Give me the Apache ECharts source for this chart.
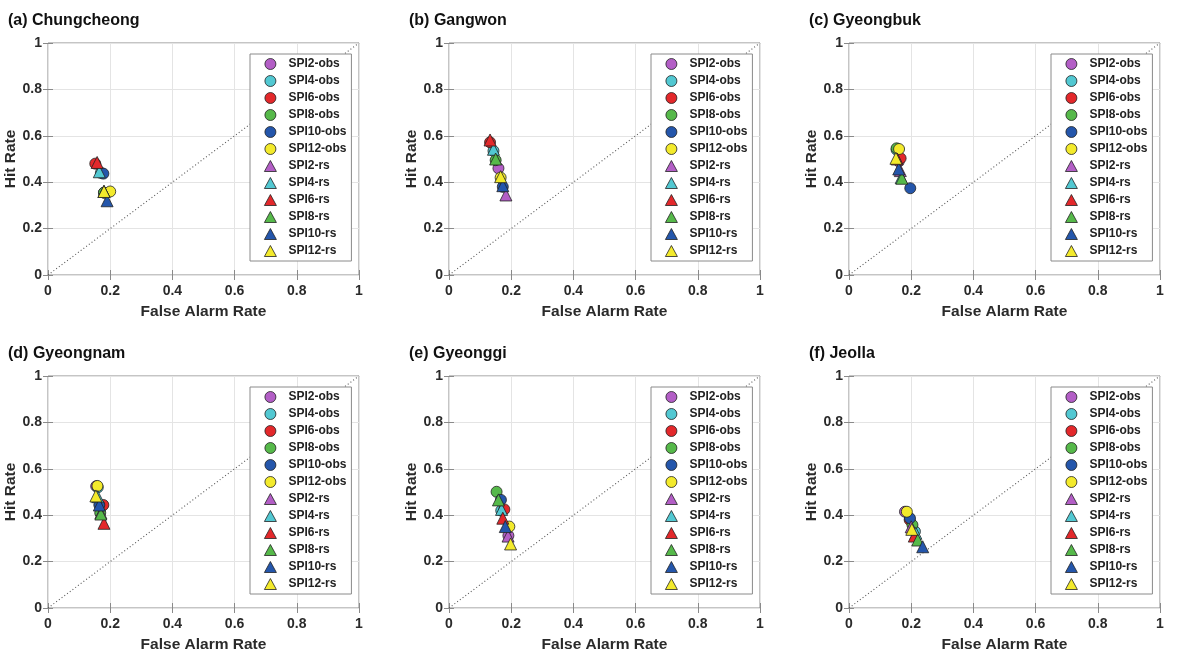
<!DOCTYPE html>
<html>
<head>
<meta charset="utf-8">
<script src="https://cdn.jsdelivr.net/npm/echarts@6/dist/echarts.min.js"></script>
<style>html,body{margin:0;padding:0;background:#fff}#c{width:1181px;height:658px}</style>
</head>
<body>
<div id="c"></div>
<script>
const panelTitles = ['(a) Chungcheong','(b) Gangwon','(c) Gyeongbuk','(d) Gyeongnam','(e) Gyeonggi','(f) Jeolla'];
const spiNames = ['SPI2','SPI4','SPI6','SPI8','SPI10','SPI12'];
const spiColors = ['#b35ec6','#52c8d2','#e3282b','#56b94a','#2456ab','#f3ea2c'];
const axisTicks = [0, 0.2, 0.4, 0.6, 0.8, 1];

// [x (False Alarm Rate), y (Hit Rate)] for SPI2..SPI12
const obsA = [[0.18,0.355],[0.17,0.44],[0.152,0.48],[0.18,0.355],[0.178,0.437],[0.2,0.36]];
const rsA  = [[0.18,0.36],[0.165,0.445],[0.158,0.485],[0.18,0.36],[0.19,0.32],[0.18,0.36]];
const obsB = [[0.159,0.46],[0.143,0.535],[0.132,0.572],[0.15,0.495],[0.173,0.38],[0.166,0.42]];
const rsB  = [[0.183,0.345],[0.143,0.542],[0.132,0.582],[0.15,0.50],[0.173,0.385],[0.166,0.424]];
const obsC = [[0.16,0.49],[0.153,0.54],[0.166,0.503],[0.153,0.546],[0.197,0.374],[0.161,0.543]];
const rsC  = [[0.165,0.45],[0.168,0.42],[0.155,0.5],[0.17,0.417],[0.16,0.457],[0.151,0.503]];
const obsD = [[0.155,0.525],[0.16,0.52],[0.178,0.444],[0.168,0.41],[0.165,0.444],[0.159,0.526]];
const rsD  = [[0.17,0.41],[0.16,0.48],[0.18,0.365],[0.17,0.405],[0.165,0.444],[0.154,0.483]];
const obsE = [[0.191,0.312],[0.168,0.42],[0.178,0.425],[0.153,0.501],[0.167,0.466],[0.194,0.351]];
const rsE  = [[0.19,0.31],[0.169,0.425],[0.173,0.387],[0.159,0.466],[0.181,0.351],[0.198,0.276]];
const obsF = [[0.18,0.415],[0.212,0.33],[0.195,0.38],[0.204,0.358],[0.196,0.387],[0.186,0.415]];
const rsF  = [[0.2,0.35],[0.215,0.322],[0.21,0.31],[0.221,0.293],[0.237,0.264],[0.202,0.339]];
const diagonal = [[0,0],[1,1]];

const obsAll = [obsA, obsB, obsC, obsD, obsE, obsF];
const rsAll = [rsA, rsB, rsC, rsD, rsE, rsF];

const gridLefts = [48, 449, 849];
const gridTops = [43, 376];
const GW = 311, GH = 232;

const chart = echarts.init(document.getElementById('c'), null, {renderer:'canvas'});
const grids = [], xAxes = [], yAxes = [], series = [], legends = [], titles = [];
const font = 'Liberation Sans, Arial, Helvetica, sans-serif';

for (let p = 0; p < 6; p++) {
  const col = p % 3, row = Math.floor(p / 3);
  const L = gridLefts[col], T = gridTops[row];
  grids.push({left: L, top: T, width: GW, height: GH, show: true, borderColor: '#8a8a8a', borderWidth: 1, backgroundColor: '#fff'});
  titles.push({text: panelTitles[p], left: L - 45, top: T - 35,
    textStyle: {fontFamily: font, fontWeight: 'bold', fontSize: 16, color: '#111'}});
  const axisCommon = {
    min: 0, max: 1, interval: 0.2, gridIndex: p,
    axisLine: {show: false},
    axisTick: {show: true, inside: true, length: 5, lineStyle: {color: '#8a8a8a'}},
    splitLine: {show: true, lineStyle: {color: '#e4e4e4', width: 1}},
    axisLabel: {fontFamily: font, fontWeight: 'bold', fontSize: 14, color: '#2a2a2a',
      formatter: v => { const i = axisTicks.findIndex(t => Math.abs(t - v) < 1e-9); return i >= 0 ? String(axisTicks[i]) : ''; }},
    nameLocation: 'middle',
    nameTextStyle: {fontFamily: font, fontWeight: 'bold', fontSize: 15.5, color: '#2a2a2a'}
  };
  xAxes.push(Object.assign({}, axisCommon, {type: 'value', name: 'False Alarm Rate', nameGap: 29,
    axisLabel: Object.assign({}, axisCommon.axisLabel, {margin: 9})}));
  yAxes.push(Object.assign({}, axisCommon, {type: 'value', name: 'Hit Rate', nameGap: 27,
    axisLabel: Object.assign({}, axisCommon.axisLabel, {margin: 6})}));
  // top / right box ticks
  xAxes.push({type: 'value', gridIndex: p, position: 'top', min: 0, max: 1, interval: 0.2,
    axisLine: {show: false}, axisLabel: {show: false}, splitLine: {show: false},
    axisTick: {show: true, inside: true, length: 5, lineStyle: {color: '#8a8a8a'}}});
  yAxes.push({type: 'value', gridIndex: p, position: 'right', min: 0, max: 1, interval: 0.2,
    axisLine: {show: false}, axisLabel: {show: false}, splitLine: {show: false},
    axisTick: {show: true, inside: true, length: 5, lineStyle: {color: '#8a8a8a'}}});
  const xi = p * 2, yi = p * 2;

  series.push({type: 'line', xAxisIndex: xi, yAxisIndex: yi, data: diagonal, symbol: 'none', silent: true,
    lineStyle: {type: [1, 2.4], color: '#555', width: 1.1}, z: 1});

  const legendData = [];
  for (let k = 0; k < 6; k++) {
    const nm = spiNames[k] + '-obs';
    legendData.push({name: nm, icon: 'circle'});
    series.push({type: 'scatter', name: nm, xAxisIndex: xi, yAxisIndex: yi, data: [obsAll[p][k]],
      symbol: 'circle', symbolSize: 11,
      itemStyle: {color: spiColors[k], borderColor: '#222', borderWidth: 0.8, opacity: 1}, z: 3});
  }
  for (let k = 0; k < 6; k++) {
    const nm = spiNames[k] + '-rs';
    legendData.push({name: nm, icon: 'triangle'});
    series.push({type: 'scatter', name: nm, xAxisIndex: xi, yAxisIndex: yi, data: [rsAll[p][k]],
      symbol: 'triangle', symbolSize: 12,
      itemStyle: {color: spiColors[k], borderColor: '#222', borderWidth: 0.8, opacity: 1}, z: 3});
  }
  legends.push({
    data: legendData, orient: 'vertical', left: L + 202, top: T + 11,
    itemWidth: 12, itemHeight: 11, itemGap: 5, padding: [4, 5, 4, 14],
    borderColor: '#8a8a8a', borderWidth: 1, backgroundColor: '#fff',
    selectedMode: false,
    itemStyle: {borderColor: '#222', borderWidth: 0.8},
    textStyle: {fontFamily: font, fontWeight: 'bold', fontSize: 12, color: '#222', padding: [0, 0, 0, 7]}
  });
}

chart.setOption({
  animation: false,
  title: titles,
  grid: grids,
  xAxis: xAxes,
  yAxis: yAxes,
  legend: legends,
  series: series
});
</script>
</body>
</html>
